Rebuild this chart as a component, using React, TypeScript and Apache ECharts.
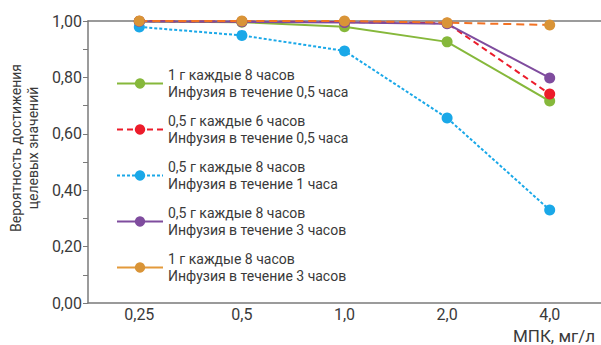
import React, { useEffect, useRef } from "react";
import * as echarts from "echarts";

const categories = ["0,25", "0,5", "1,0", "2,0", "4,0"];
const seriesNames = [
  "1 г каждые 8 часов\nИнфузия в течение 0,5 часа",
  "0,5 г каждые 6 часов\nИнфузия в течение 0,5 часа",
  "0,5 г каждые 8 часов\nИнфузия в течение 1 часа",
  "0,5 г каждые 8 часов\nИнфузия в течение 3 часов",
  "1 г каждые 8 часов\nИнфузия в течение 3 часов",
];
const green = [0.998, 0.996, 0.98, 0.926, 0.716];
const red = [0.999, 0.998, 0.996, 0.992, 0.741];
const blue = [0.979, 0.949, 0.894, 0.656, 0.33];
const purple = [0.998, 0.997, 0.995, 0.99, 0.798];
const orange = [1.0, 1.0, 1.0, 0.994, 0.986];
const yTicks = [0, 0.2, 0.4, 0.6, 0.8, 1.0];

const FONT = "Roboto";
const TXT = "#3a3a3a";

export default function App() {
  const ref = useRef<HTMLDivElement>(null);
  useEffect(() => {
    const chart = echarts.init(ref.current!, null, { renderer: "svg" });
    const mk = (
      name: string,
      data: number[],
      lineColor: string,
      markerColor: string,
      type: any,
      width: number
    ) => ({
      name,
      type: "line",
      data,
      symbol: "circle",
      symbolSize: 11,
      itemStyle: { color: markerColor },
      lineStyle: { color: lineColor, type, width },
      emphasis: { disabled: true },
    });
    chart.setOption({
      animation: false,
      textStyle: { fontFamily: FONT },
      grid: { left: 88, right: 0, top: 21, bottom: 42 },
      title: {
        text: "МПК, мг/л",
        right: 6,
        bottom: 1,
        padding: 0,
        textStyle: {
          fontFamily: FONT,
          fontSize: 17,
          fontWeight: "normal",
          color: TXT,
        },
      },
      legend: {
        orient: "vertical",
        left: 116,
        top: 63,
        padding: 0,
        itemWidth: 46,
        itemHeight: 13,
        itemGap: 5,
        textStyle: {
          fontFamily: FONT,
          fontSize: 14,
          color: TXT,
          lineHeight: 17,
          padding: [0, 0, 7, 0],
        },
        data: [
          { name: seriesNames[0] },
          { name: seriesNames[1] },
          { name: seriesNames[2] },
          { name: seriesNames[3] },
          {
            name: seriesNames[4],
            lineStyle: { type: "solid", color: "#E39A3B" },
          },
        ],
      },
      xAxis: [
        {
          type: "category",
          data: categories,
          boundaryGap: true,
          axisLine: { lineStyle: { color: "#7a7a7a", width: 1.5 } },
          axisTick: {
            alignWithLabel: true,
            inside: true,
            length: 6,
            lineStyle: { color: "#7a7a7a" },
          },
          axisLabel: { fontSize: 16, color: TXT, margin: 3, fontFamily: FONT },
        },
        {
          type: "category",
          position: "top",
          data: categories,
          axisLine: { show: true, lineStyle: { color: "#7a7a7a", width: 1.5 } },
          axisTick: { show: false },
          axisLabel: { show: false },
        },
      ],
      yAxis: {
        type: "value",
        min: 0,
        max: 1,
        interval: 0.1,
        axisLine: { show: true, lineStyle: { color: "#7a7a7a", width: 1.5 } },
        axisTick: { show: true, length: 5, lineStyle: { color: "#7a7a7a" } },
        splitLine: { show: false },
        axisLabel: {
          fontSize: 16,
          color: TXT,
          margin: 6,
          fontFamily: FONT,
          formatter: (v: number) => {
            const hit = yTicks.find((t) => Math.abs(t - v) < 1e-6);
            return hit === undefined ? "" : hit.toFixed(2).replace(".", ",");
          },
        },
      },
      graphic: [
        {
          type: "text",
          x: 24,
          y: 148,
          rotation: Math.PI / 2,
          style: {
            text: "Вероятность достижения\nцелевых значений",
            fontFamily: FONT,
            fontSize: 14,
            lineHeight: 17,
            fill: TXT,
            align: "center",
            verticalAlign: "middle",
          },
        },
      ],
      series: [
        mk(seriesNames[0], green, "#86B83B", "#86B83B", "solid", 2),
        mk(seriesNames[1], red, "#EC1C2B", "#EC1C2B", [6, 4], 2),
        mk(seriesNames[2], blue, "#1AA8E8", "#1AA8E8", [3, 2], 2),
        mk(seriesNames[3], purple, "#7F4C9E", "#7F4C9E", "solid", 2),
        mk(seriesNames[4], orange, "#F27224", "#D99437", [8, 5], 2),
      ],
    });
    return () => chart.dispose();
  }, []);
  return (
    <div
      ref={ref}
      style={{ position: "absolute", left: 0, top: 0, width: 601, height: 345 }}
    />
  );
}
